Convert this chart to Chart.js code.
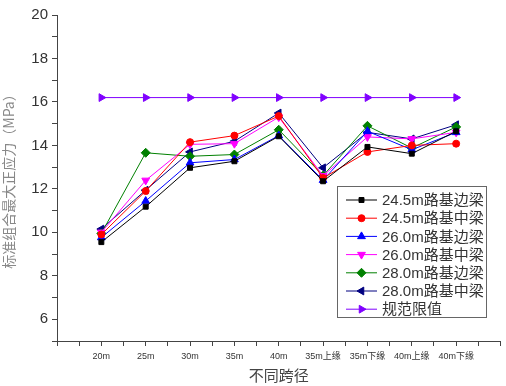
<!DOCTYPE html>
<html>
<head>
<meta charset="utf-8">
<script src="https://cdn.jsdelivr.net/npm/chart.js@4"></script>
<style>
  html, body { margin: 0; padding: 0; background: #fff; }
  #wrap { width: 506px; height: 386px; }
</style>
</head>
<body>
<div id="wrap"><canvas id="c" width="506" height="386"></canvas></div>
<script>
// categories along the x axis
var spans = ["20m", "25m", "30m", "35m", "40m", "35m上缘", "35m下缘", "40m上缘", "40m下缘"];

// max normal stress (MPa) per series
var s245Side = [9.55, 11.18, 12.97, 13.27, 14.42, 12.35, 13.93, 13.62, 14.65];
var s245Mid  = [9.9, 11.9, 14.15, 14.45, 15.35, 12.5, 13.7, 14.0, 14.08];
var s260Side = [9.76, 11.44, 13.2, 13.35, 14.45, 12.4, 14.65, 13.8, 14.6];
var s260Mid  = [10.0, 12.39, 14.05, 14.08, 15.3, 12.6, 14.39, 14.3, 14.6];
var s280Side = [9.95, 13.66, 13.5, 13.58, 14.72, 12.61, 14.9, 13.88, 14.85];
var s280Mid  = [10.15, 11.94, 13.7, 14.19, 15.49, 12.97, 14.6, 14.3, 14.95];
var limit    = [16.2, 16.2, 16.2, 16.2, 16.2, 16.2, 16.2, 16.2, 16.2];

var names = ["24.5m路基边梁", "24.5m路基中梁", "26.0m路基边梁", "26.0m路基中梁",
             "28.0m路基边梁", "28.0m路基中梁", "规范限值"];

function pts(arr) {
  return arr.map(function(v, i) { return { x: i + 1, y: v }; });
}

function series(label, data, color, style, rot, r) {
  return {
    label: label,
    data: pts(data),
    borderColor: color,
    backgroundColor: color,
    borderWidth: 1,
    pointStyle: style,
    rotation: rot,
    pointRadius: r,
    pointBorderWidth: 1,
    tension: 0
  };
}

var datasets = [
  series(names[0], s245Side, "#000000", "rect", 0, 3.5),
  series(names[1], s245Mid, "#ff0000", "circle", 0, 3.5),
  series(names[2], s260Side, "#0000ff", "triangle", 0, 4.5),
  series(names[3], s260Mid, "#ff00ff", "triangle", 180, 4.5),
  series(names[4], s280Side, "#008000", "rectRot", 0, 4.5),
  series(names[5], s280Mid, "#000080", "triangle", -90, 4.5),
  series(names[6], limit, "#8000ff", "triangle", 90, 4.5)
];

var boxLegend = {
  id: "boxLegend",
  afterDraw: function(chart) {
    var ctx = chart.ctx;
    var x0 = 337, y0 = 186, w = 149, h = 131, step = 18.2;
    ctx.save();
    ctx.fillStyle = "#fff";
    ctx.fillRect(x0, y0, w, h);
    ctx.strokeStyle = "#666";
    ctx.lineWidth = 1;
    ctx.strokeRect(x0 + 0.5, y0 + 0.5, w, h);
    ctx.font = "15px 'Liberation Sans', 'Noto Sans CJK SC', sans-serif";
    ctx.textBaseline = "middle";
    chart.data.datasets.forEach(function(ds, i) {
      var y = 200 + i * step;
      ctx.strokeStyle = ds.borderColor;
      ctx.lineWidth = 1;
      ctx.beginPath();
      ctx.moveTo(346, y);
      ctx.lineTo(377, y);
      ctx.stroke();
      ctx.fillStyle = ds.backgroundColor;
      Chart.helpers.drawPoint(ctx, {
        pointStyle: ds.pointStyle,
        rotation: ds.rotation,
        radius: ds.pointRadius,
        borderWidth: 1
      }, 361.5, y);
      ctx.fillStyle = "#333";
      ctx.fillText(ds.label, 382, y + 1);
    });
    ctx.restore();
  }
};

new Chart(document.getElementById("c"), {
  type: "line",
  data: { datasets: datasets },
  options: {
    responsive: false,
    animation: false,
    layout: { padding: { top: 15, right: 3, left: 0, bottom: 0 } },
    plugins: { legend: { display: false }, tooltip: { enabled: false } },
    scales: {
      x: {
        type: "linear",
        min: 0,
        max: 10,
        afterFit: function(s) { s.height = 45; },
        ticks: {
          stepSize: 0.5,
          autoSkip: false,
          maxRotation: 0,
          padding: 5,
          color: "#333",
          font: { size: 9, family: "'Liberation Sans', 'Noto Sans CJK SC', sans-serif" },
          callback: function(v) {
            if (v >= 1 && v <= 9 && Number.isInteger(v)) return spans[v - 1];
            return "";
          }
        },
        grid: { drawOnChartArea: false, tickLength: 5, color: "#444" },
        border: { color: "#444", width: 1 },
        title: {
          display: true,
          text: "不同跨径",
          color: "#444",
          padding: { top: 0, bottom: 2 },
          font: { size: 15, family: "'Noto Sans CJK SC', sans-serif" }
        }
      },
      y: {
        min: 5,
        max: 20,
        afterFit: function(s) { s.width = 57; },
        ticks: {
          stepSize: 1,
          autoSkip: false,
          padding: 4,
          color: "#333",
          font: { size: 15, family: "'Liberation Sans', sans-serif" },
          callback: function(v) { return (v % 2 === 0) ? v : ""; }
        },
        grid: { drawOnChartArea: false, tickLength: 5, color: "#444" },
        border: { color: "#444", width: 1 },
        title: {
          display: true,
          text: "标准组合最大正应力（MPa）",
          color: "#888",
          padding: { top: 0, bottom: 2 },
          font: { size: 14, family: "'Noto Sans CJK SC', sans-serif" }
        }
      }
    }
  },
  plugins: [boxLegend]
});
</script>
</body>
</html>
